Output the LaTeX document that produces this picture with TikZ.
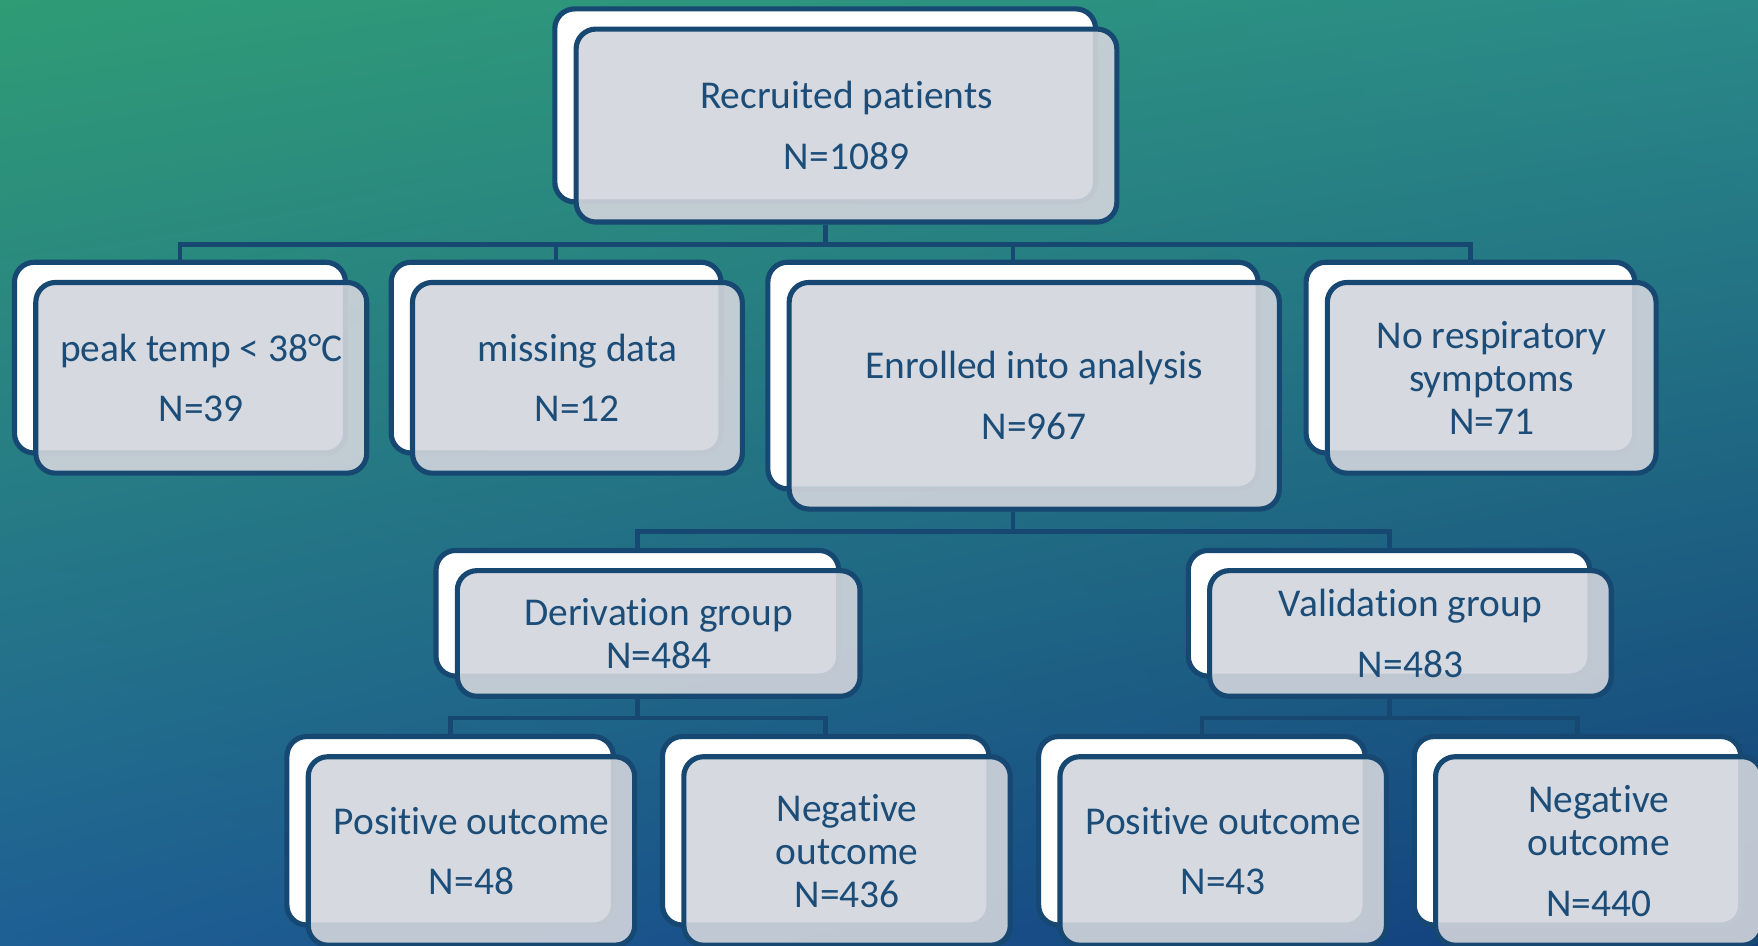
\documentclass[tikz,border=0pt]{standalone}
\usepackage{fontspec}
\setmainfont{Carlito}[Ligatures=NoCommon]
\usetikzlibrary{shadings}
\definecolor{edge}{HTML}{164872}
\definecolor{ink}{HTML}{1C4D78}
\definecolor{cardgray}{HTML}{D2D5DC}
\definecolor{bgTL}{HTML}{2F9C75}
\definecolor{bgTR}{HTML}{2A8A88}
\definecolor{bgBL}{HTML}{1E5F94}
\definecolor{bgBR}{HTML}{123E7C}
\tikzset{
  backcard/.style={rectangle, rounded corners=5pt, draw=edge, line width=1.3pt,
    fill=white, inner sep=0pt},
  frontcard/.style={backcard, fill=cardgray, fill opacity=0.9, text opacity=1,
    text=ink, align=center, font=\fontsize{10}{11}\selectfont},
  sz/.style 2 args={minimum width=#1, minimum height=#2},
  link/.style={draw=edge, line width=1.2pt},
}
\begin{document}
\begin{tikzpicture}[x=0.01cm, y=-0.01cm]
% backdrop
\clip (0,0) rectangle (1568,843);
\shade[upper left=bgTL, upper right=bgTR, lower left=bgBL, lower right=bgBR]
  (0,0) rectangle (1568,843);
% Top
\node[backcard, sz={4.82cm}{1.72cm}] (recB) at (736,94) {};
\node[frontcard, sz={4.82cm}{1.72cm}] (rec) at ([shift={(19,18)}]recB)
  {Recruited patients\\[4.4pt]N=1089};
% Exclusions and enrolled
\node[backcard, sz={2.95cm}{1.70cm}] (tempB) at (160.5,319) {};
\node[frontcard, sz={2.95cm}{1.70cm}] (temp) at ([shift={(19,18)}]tempB)
  {peak temp < 38°C\\[4.4pt]N=39};
\node[backcard, sz={2.94cm}{1.70cm}] (missB) at (496,319) {};
\node[frontcard, sz={2.94cm}{1.70cm}] (miss) at ([shift={(19,18)}]missB)
  {missing data\\[4.4pt]N=12};
\node[backcard, sz={4.37cm}{2.02cm}] (enrB) at (903.5,335) {};
\node[frontcard, sz={4.37cm}{2.02cm}] (enr) at ([shift={(19,18)}]enrB)
  {Enrolled into analysis\\[4.4pt]N=967};
\node[backcard, sz={2.93cm}{1.70cm}] (respB) at (1311.5,319) {};
\node[frontcard, sz={2.93cm}{1.70cm}] (resp) at ([shift={(19,18)}]respB)
  {No respiratory\\symptoms\\N=71};
% Groups
\node[backcard, sz={3.59cm}{1.12cm}] (derB) at (568.5,547) {};
\node[frontcard, sz={3.59cm}{1.12cm}] (der) at ([shift={(19,18)}]derB)
  {Derivation group\\N=484};
\node[backcard, sz={3.58cm}{1.12cm}] (valB) at (1239,547) {};
\node[frontcard, sz={3.58cm}{1.12cm}] (val) at ([shift={(19,18)}]valB)
  {Validation group\\[4.4pt]N=483};
% Outcomes
\node[backcard, sz={2.91cm}{1.68cm}] (posAB) at (401.5,741) {};
\node[frontcard, sz={2.91cm}{1.68cm}] (posA) at ([shift={(19,18)}]posAB)
  {Positive outcome\\[4.4pt]N=48};
\node[backcard, sz={2.91cm}{1.68cm}] (negAB) at (736.5,741) {};
\node[frontcard, sz={2.91cm}{1.68cm}] (negA) at ([shift={(19,18)}]negAB)
  {Negative\\outcome\\N=436};
\node[backcard, sz={2.91cm}{1.68cm}] (posBB) at (1072,741) {};
\node[frontcard, sz={2.91cm}{1.68cm}] (posB) at ([shift={(19,18)}]posBB)
  {Positive outcome\\[4.4pt]N=43};
\node[backcard, sz={2.91cm}{1.68cm}] (negBB) at (1407,741) {};
\node[frontcard, sz={2.91cm}{1.68cm}] (negB) at ([shift={(19,18)}]negBB)
  {Negative\\outcome\\[4.4pt]N=440};
% Tree links
\foreach \k in {tempB,missB,enrB,respB}
  \draw[link] (recB.south |- rec.south) -- ++(0,18) -| (\k.north);
\foreach \k in {derB,valB}
  \draw[link] (enrB.south |- enr.south) -- ++(0,18) -| (\k.north);
\foreach \k in {posAB,negAB}
  \draw[link] (derB.south |- der.south) -- ++(0,17) -| (\k.north);
\foreach \k in {posBB,negBB}
  \draw[link] (valB.south |- val.south) -- ++(0,17) -| (\k.north);
\end{tikzpicture}
\end{document}
